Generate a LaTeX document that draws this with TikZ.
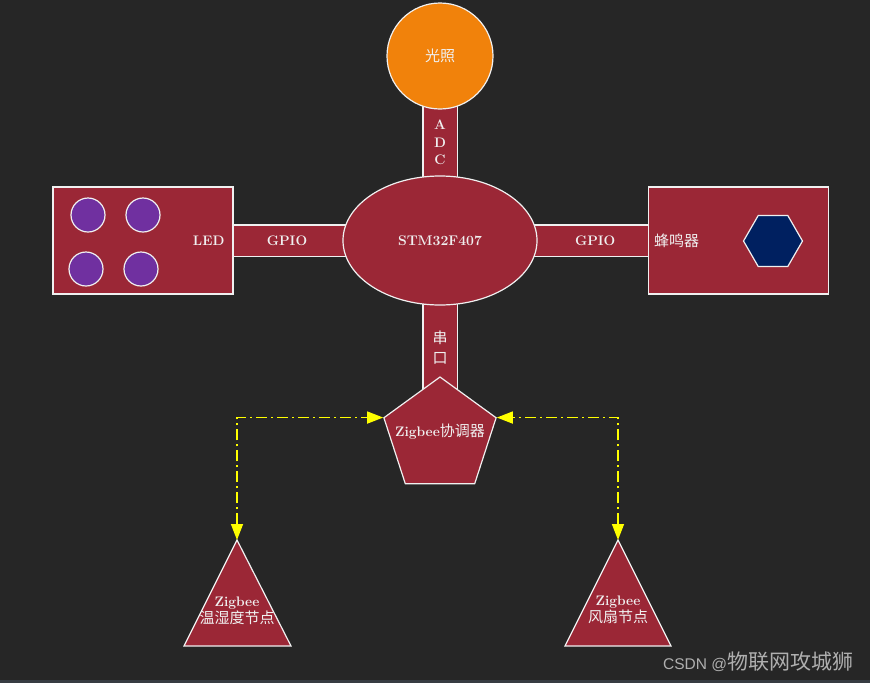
\documentclass[tikz,border=0pt]{standalone}
\usepackage{fontspec}
\usepackage{tikz}
\usetikzlibrary{shapes.geometric,arrows.meta}
\newfontfamily\cjk{Noto Sans CJK SC}
\newfontfamily\marksans{Liberation Sans}
\definecolor{bgdark}{RGB}{38,38,38}
\definecolor{stripgray}{RGB}{55,60,66}
\definecolor{crimson}{RGB}{155,39,54}
\definecolor{lightorange}{RGB}{241,130,11}
\definecolor{ledpurple}{RGB}{112,48,160}
\definecolor{hexnavy}{RGB}{0,32,96}
\definecolor{edge}{RGB}{240,240,240}
\definecolor{zyellow}{RGB}{255,255,0}
\definecolor{markgray}{RGB}{175,175,175}
\pgfdeclarelayer{backdrop}
\pgfdeclarelayer{bars}
\pgfsetlayers{backdrop,bars,main}

\begin{document}
\begin{tikzpicture}[x=1pt, y=-1pt, box/.style={draw=edge,fill=crimson,line width=1.2pt,rectangle,minimum width=180pt,minimum height=107pt,inner sep=0pt}, lamp/.style={draw=edge,fill=ledpurple,line width=1.2pt,circle,minimum size=34pt,inner sep=0pt}, horn/.style={draw=edge,fill=hexnavy,line width=1.2pt,regular polygon,regular polygon sides=6,minimum size=59pt,inner sep=0pt}, sensor/.style={draw=edge,fill=lightorange,line width=1.2pt,circle,minimum size=106pt,inner sep=0pt}, mcu/.style={draw=edge,fill=crimson,line width=1.2pt,ellipse,minimum width=194pt,minimum height=129pt,inner sep=0pt}, pent/.style={draw=edge,fill=crimson,line width=1.2pt,regular polygon,regular polygon sides=5,minimum size=118pt,inner sep=0pt}, tri/.style={draw=edge,fill=crimson,line width=1.2pt,line join=miter}, bar/.style={draw=edge,line width=1.2pt,double=crimson,double distance=30pt}, vbar/.style={draw=edge,line width=1.2pt,double=crimson,double distance=33pt}, lbl/.style={text=edge,font=\fontsize{13.8}{17.5}\selectfont\bfseries,inner sep=2pt}, cjklbl/.style={text=edge,font=\fontsize{15}{20}\selectfont\cjk,inner sep=2pt}, zlink/.style={draw=zyellow,line width=1.5pt,dash pattern=on 11pt off 4pt on 2pt off 4pt,arrows={Triangle[length=16pt,width=12pt]-Triangle[length=16pt,width=12pt]}}]

\useasboundingbox (0,0) rectangle (870,683);
\begin{pgfonlayer}{backdrop}
\fill[bgdark] (0,0) rectangle (870,683);
\fill[stripgray] (0,680) rectangle (870,683);
\end{pgfonlayer}

\node[sensor] (light) at (440, 56) {\fontsize{15}{18}\selectfont\cjk\color{edge}光照};
\node[mcu] (stm) at (440, 240.5) {\color{edge}\fontsize{14}{16}\selectfont\bfseries STM32F407};
\node[box, label={[lbl,anchor=east,xshift=-7pt]east:LED}] (led) at (143, 240.5) {};
\node[box, label={[cjklbl,anchor=west,xshift=4pt]west:蜂鸣器}] (buzzer) at (738.5, 240.5) {};
\node[lamp] (lamp1) at (88, 215) {};
\node[lamp] (lamp2) at (143, 215) {};
\node[lamp] (lamp3) at (86, 269) {};
\node[lamp] (lamp4) at (141, 269) {};
\node[horn] (hex) at (773, 241) {};
\node[pent, label={[lbl,yshift=4pt]center:{Zigbee{\fontsize{15}{18}\selectfont\mdseries\cjk 协调器}}}] (coord) at (440, 436) {};

\draw[tri] (237, 540) coordinate (humid) -- ++(-53, 106) -- ++(107, 0) -- cycle;
\draw[tri] (618, 540) coordinate (fan) -- ++(-53, 106) -- ++(106, 0) -- cycle;
\node[lbl, align=center] (humidtxt) at (237, 611) {Zigbee\\{\fontsize{15}{19}\selectfont\mdseries\cjk 温湿度节点}};
\node[lbl, align=center] (fantxt) at (618, 610) {Zigbee\\{\fontsize{15}{19}\selectfont\mdseries\cjk 风扇节点}};

\begin{pgfonlayer}{bars}
\draw[vbar] (light.center) -- (stm.center) node[lbl, pos=0.47, align=center] {A\\D\\C};
\draw[bar] (led.center) -- (stm.center) node[lbl, pos=0.485] {GPIO};
\draw[bar] (stm.center) -- (buzzer.center) node[lbl, pos=0.52] {GPIO};
\draw[vbar] (stm.center) -- (coord.center) node[cjklbl, pos=0.546, align=center] {串\\口};
\end{pgfonlayer}

\draw[zlink] (humid) |- (coord.corner 2);
\draw[zlink] (fan) |- (coord.corner 5);

\node[anchor=west, text=markgray, inner sep=0pt] (mark) at (663, 662) {{\marksans\fontsize{15.5}{18}\selectfont CSDN @}{\cjk\fontsize{21}{22}\selectfont 物联网攻城狮}};

\end{tikzpicture}
\end{document}
